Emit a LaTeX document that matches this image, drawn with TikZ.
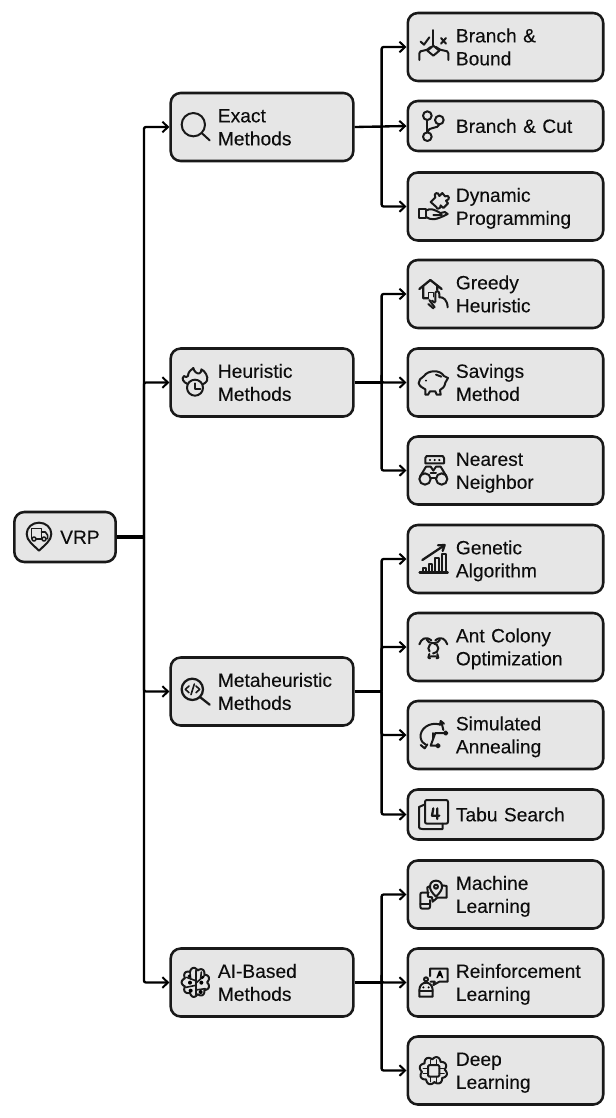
\documentclass[tikz,border=0pt]{standalone}
\usepackage{fontspec}
\setmainfont{Liberation Sans}[FakeBold=0.12]
\usetikzlibrary{arrows.meta}
\newcommand{\twolines}[3][36.1pt]{\hspace*{#1}\begin{tabular}{@{}l@{}}\rule{0pt}{15.4pt}#2\\#3\end{tabular}}
\newcommand{\oneline}[2][36.1pt]{\hspace*{#1}\begin{tabular}{@{}l@{}}\rule{0pt}{15.4pt}#2\end{tabular}}
\tikzset{
  boxbase/.style={draw=black!90,fill=boxgray,line width=1.9pt,rounded corners=7.5pt,inner xsep=0pt,inner ysep=0pt,
    font=\fontsize{14.4}{17.25}\selectfont,text=black!95},
  rightbox/.style={boxbase,text width=146.6pt,minimum height=51pt},
  rightshort/.style={rightbox,minimum height=37.5pt},
  midbox/.style={boxbase,text width=137pt,minimum height=51pt},
  rootbox/.style={boxbase,text width=76pt,minimum height=37.5pt},
  stem/.style={draw=black,line width=1.75pt},
  conn/.style={stem,-{Straight Barb[length=4.2pt,width=8pt,line width=1.5pt]},rounded corners=1.5pt},
  zc/.style 2 args={shift={(#1,#2)},x=.25pt,y=-.25pt,line width=1.5pt,line cap=round,line join=round,draw=black!90},
  thin line/.style={line width=1.2pt}
}
\definecolor{boxgray}{HTML}{E6E6E6}
\begin{document}
\begin{tikzpicture}[x=.75pt,y=-.75pt]
\useasboundingbox (0,0) rectangle (616,1118);
% ---- boxes
\node[rootbox] (vrp) at (65,537) {\oneline[34.4pt]{VRP}};
\node[midbox] (exact) at (262,127) {\twolines[35.4pt]{Exact}{Methods}};
\node[midbox] (heur) at (262,382.5) {\twolines[35.4pt]{Heuristic}{Methods}};
\node[midbox] (meta) at (262,691.5) {\twolines[35.4pt]{Metaheuristic}{Methods}};
\node[midbox] (ai) at (262,982.5) {\twolines[35.4pt]{AI-Based}{Methods}};
\node[rightbox] (bb) at (505.5,47) {\twolines{Branch \&}{Bound}};
\node[rightshort] (bc) at (505.5,126) {\oneline{Branch \& Cut}};
\node[rightbox] (dp) at (505.5,206.5) {\twolines{Dynamic}{Programming}};
\node[rightbox] (gh) at (505.5,294) {\twolines{Greedy}{Heuristic}};
\node[rightbox] (sm) at (505.5,382.5) {\twolines{Savings}{Method}};
\node[rightbox] (nn) at (505.5,470.5) {\twolines{Nearest}{Neighbor}};
\node[rightbox] (ga) at (505.5,559) {\twolines{Genetic}{Algorithm}};
\node[rightbox] (ac) at (505.5,647) {\twolines{Ant Colony}{Optimization}};
\node[rightbox] (sa) at (505.5,735) {\twolines{Simulated}{Annealing}};
\node[rightshort] (ts) at (505.5,814.5) {\oneline{Tabu Search}};
\node[rightbox] (ml) at (505.5,894.5) {\twolines{Machine}{Learning}};
\node[rightbox] (rl) at (505.5,982.5) {\twolines{Reinforcement}{Learning}};
\node[rightbox] (dl) at (505.5,1070.5) {\twolines{Deep}{Learning}};
% ---- connectors
\coordinate (j0) at ([xshift=20.25pt]vrp.east);
\coordinate (j1) at ([xshift=20.25pt]exact.east);
\coordinate (j2) at ([xshift=20.25pt]heur.east);
\coordinate (j3) at ([xshift=20.25pt]meta.east);
\coordinate (j4) at ([xshift=20.25pt]ai.east);
\draw[stem,line width=2.3pt] (vrp.east) -- (j0);
\draw[stem,line width=1.9pt] (exact.east) -- (j1);
\draw[stem] (heur.east) -- (j2);
\draw[stem] (meta.east) -- (j3);
\draw[stem] (ai.east) -- (j4);
\foreach \c in {exact,heur,meta,ai} \draw[conn] (j0) |- (\c.west);
\foreach \c in {bb,dp} \draw[conn] (j1) |- (\c.west);
\draw[conn] (exact.east) -- (bc.west);
\foreach \c in {gh,sm,nn} \draw[conn] (j2) |- (\c.west);
\foreach \c in {ga,ac,sa,ts} \draw[conn] (j3) |- (\c.west);
\foreach \c in {ml,rl,dl} \draw[conn] (j4) |- (\c.west);
% ---- VRP icon
\begin{scope}[zc={0}{500}]
  \draw (117,152) .. controls (100,135) and (80,122) .. (80,102) .. controls (80,82) and (97,68) .. (117,68) .. controls (137,68) and (154,82) .. (154,102) .. controls (154,122) and (134,135) .. (117,152) -- cycle;
  \draw[thin line] (94,116) -- (94,86) -- (124,86) -- (124,116) -- (110,116);
  \draw[thin line] (124,96) -- (136,96) -- (143,106) -- (143,116) -- (140,116);
  \draw[thin line] (102,117) circle[radius=6] (132,117) circle[radius=6];
  \draw[thin line] (108,117) -- (126,117);
\end{scope}
% ---- Exact: magnifier
\begin{scope}[zc={160}{80}]
  \draw (100,134) circle[radius=35];
  \draw (125,159) -- (149,181);
\end{scope}
% ---- Heuristic: flame and clock
\begin{scope}[zc={160}{340}]
  \draw (105,143) circle[radius=24];
  \draw (105,130) -- (105,146) -- (121,146);
  \draw (83,132) .. controls (72,128) and (62,116) .. (72,108) .. controls (76,112) and (80,112) .. (84,108) .. controls (84,96) and (92,90) .. (100,84) .. controls (102,94) and (110,102) .. (118,100) .. controls (124,98) and (124,92) .. (124,88) .. controls (134,92) and (146,110) .. (141,122) .. controls (139,127) and (134,130) .. (128,133);
\end{scope}
% ---- Meta: magnifier with code
\begin{scope}[zc={160}{650}]
  \draw[line width=1.7pt] (97,118) circle[radius=32];
  \draw[line width=1.7pt] (121,142) -- (149,164);
  \draw[thin line] (87,108) -- (76,118) -- (87,128) (108,108) -- (119,118) -- (108,128) (103,102) -- (93,134);
\end{scope}
% ---- AI: brain
\begin{scope}[zc={160}{940}]
  \draw plot[domain=0:360,samples=145] ({107+(34+8*abs(sin(4.5*\x)))*cos(\x)},{127+(36+8*abs(sin(4.5*\x)))*sin(\x)}) -- cycle;
  \draw (107,92) -- (107,164);
  \draw[thin line] (80,112) -- (107,122) (134,106) -- (107,130) (78,142) -- (107,136) (136,146) -- (107,150) (90,96) -- (92,118) (124,96) -- (122,114);
  \fill (90,128) circle[radius=6] (124,128) circle[radius=6] (92,152) circle[radius=6] (122,156) circle[radius=6] (88,108) circle[radius=5] (128,112) circle[radius=5];
\end{scope}
% ---- Branch & Bound
\begin{scope}[zc={400}{0}]
  \draw (100,90) -- (100,134);
  \draw (62,125) -- (72,134) -- (88,112);
  \draw (123,114) -- (138,131) (138,114) -- (123,131);
  \draw (100,137) -- (118,152) -- (100,167) -- (82,152) -- cycle;
  \draw (58,180) -- (58,160) .. controls (58,154) and (64,152) .. (70,152) .. controls (78,152) and (84,148) .. (92,141);
  \draw (145,180) -- (145,160) .. controls (145,154) and (139,152) .. (133,152) .. controls (125,152) and (118,148) .. (108,141);
\end{scope}
% ---- Branch & Cut
\begin{scope}[zc={400}{0}]
  \draw (82,347) circle[radius=13] (118,360) circle[radius=13] (82,410) circle[radius=13];
  \draw (82,360) -- (82,397);
  \draw (118,373) .. controls (116,388) and (84,378) .. (82,397);
\end{scope}
% ---- Dynamic Programming
\begin{scope}[zc={400}{0}]
  \draw (58,628) -- (78,628) -- (78,655) -- (58,655) -- cycle;
  \draw (78,632) .. controls (90,624) and (100,628) .. (112,634) .. controls (120,638) and (125,640) .. (125,645) -- (100,645);
  \draw (78,651) .. controls (95,662) and (108,660) .. (143,642) .. controls (140,634) and (130,636) .. (125,638);
  \draw (92,606) -- (106,592) .. controls (98,580) and (116,572) .. (118,588) -- (127,579) -- (135,589) .. controls (148,582) and (152,600) .. (138,602) -- (144,610) -- (130,624) -- (122,616) .. controls (124,628) and (106,628) .. (110,622) -- cycle;
\end{scope}
% ---- Greedy Heuristic
\begin{scope}[zc={400}{250}]
  \draw[line width=1.7pt] (58,117) -- (91,90) -- (125,117) (70,108) -- (70,145) -- (84,145) (112,106) -- (112,120);
  \draw[thin line] (86,145) -- (86,127) -- (100,127) -- (100,140);
  \draw (85,162) -- (100,175) (96,152) -- (104,158);
  \draw (106,155) -- (106,128) .. controls (110,120) and (118,124) .. (118,132) -- (118,142) .. controls (130,140) and (142,150) .. (143,172);
  \draw (88,150) -- (104,172);
\end{scope}
% ---- Savings Method
\begin{scope}[zc={400}{250}]
  \draw (72,378) .. controls (84,360) and (120,358) .. (132,378) -- (144,384) -- (136,398) .. controls (134,412) and (126,416) .. (120,420) -- (122,434) -- (110,434) -- (106,424) -- (90,424) -- (84,434) -- (76,434) -- (76,418) .. controls (68,414) and (58,408) .. (56,400) -- (60,388) -- (72,378) -- cycle;
  \draw (108,374) -- (124,380);
  \fill (78,392) circle[radius=3];
\end{scope}
% ---- Nearest Neighbor
\begin{scope}[zc={400}{250}]
  \draw (76,640) -- (76,624) -- (80,618) -- (128,618) -- (132,624) -- (132,640) -- cycle;
  \fill (90,630) circle[radius=3.5] (104,630) circle[radius=3.5] (118,630) circle[radius=3.5];
  \draw (75,687) circle[radius=17] (125,687) circle[radius=17];
  \draw (92,683) -- (108,683);
  \draw (60,680) -- (78,650) -- (92,650) -- (100,662) -- (108,650) -- (122,650) -- (140,680);
  \draw (92,670) -- (108,670);
\end{scope}
% ---- Genetic Algorithm
\begin{scope}[zc={400}{515}]
  \draw[line width=1.9pt] (59,172) -- (143,172);
  \draw (68,172) -- (68,160) -- (78,160) -- (78,172);
  \draw (86,172) -- (86,147) -- (97,147) -- (97,172);
  \draw (105,172) -- (105,128) -- (116,128) -- (116,172);
  \draw (125,172) -- (125,116) -- (138,116) -- (138,172);
  \draw[line width=1.7pt] (67,135) -- (133,91);
  \draw[line width=1.7pt] (114,91) -- (134,90) -- (128,108);
\end{scope}
% ---- Ant Colony Optimization
\begin{scope}[zc={400}{515}]
  \draw (58,388) .. controls (64,372) and (76,362) .. (94,376);
  \draw (142,388) .. controls (136,372) and (124,362) .. (106,376);
  \draw (80,374) .. controls (84,388) and (116,388) .. (120,374);
  \draw[dash pattern=on 6pt off 3pt] (100,400) circle[radius=15];
  \draw (88,417) -- (85,428) -- (90,430) (112,417) -- (115,428) -- (110,430) (92,424) -- (108,424);
\end{scope}
% ---- Simulated Annealing
\begin{scope}[zc={400}{515}]
  \draw (118,628) .. controls (88,620) and (58,642) .. (62,668) .. controls (64,680) and (70,685) .. (76,688);
  \draw (136,654) -- (106,654) -- (92,692) -- (110,692);
  \draw (137,654) circle[radius=5] (114,692) circle[radius=5];
  \draw (62,690) -- (74,700) -- (82,688);
  \draw (120,630) -- (122,618) -- (132,626) (124,620) -- (130,645);
  \draw (100,654) -- (100,672);
\end{scope}
% ---- Tabu Search
\begin{scope}[zc={400}{515}]
  \draw (75,861) -- (75,920) .. controls (75,924) and (77,926) .. (81,926) -- (138,926) .. controls (142,926) and (144,924) .. (144,920) -- (144,861) .. controls (144,857) and (142,855) .. (138,855) -- (81,855) .. controls (77,855) and (75,857) .. (75,861) -- cycle;
  \draw (75,868) -- (57,876) -- (57,936) (67,942) -- (128,942) -- (128,926);
  \draw (57,936) .. controls (57,940) and (60,942) .. (67,942);
  \draw[line width=1.7pt] (100,880) -- (96,902) -- (118,902) (112,880) -- (112,912);
\end{scope}
% ---- Machine Learning
\begin{scope}[zc={400}{850}]
  \draw (86,128) -- (66,128) .. controls (62,128) and (61,130) .. (61,134) -- (61,170) .. controls (61,174) and (63,176) .. (67,176) -- (84,176) .. controls (88,176) and (90,174) .. (90,170) -- (90,150);
  \draw (61,162) -- (90,162);
  \draw (90,108) -- (82,112) -- (84,140) -- (96,142) -- (98,155) -- (112,143) -- (140,143) -- (140,108) -- (126,106);
  \draw (108,140) .. controls (94,126) and (90,118) .. (90,110) .. controls (90,98) and (98,92) .. (108,92) .. controls (118,92) and (126,98) .. (126,110) .. controls (126,118) and (122,126) .. (108,140) -- cycle;
  \draw (108,110) circle[radius=6];
\end{scope}
% ---- Reinforcement Learning
\begin{scope}[zc={400}{850}]
  \draw (90,378) -- (90,356) -- (143,356) -- (143,395) -- (118,395) -- (100,405) -- (104,395) -- (92,395);
  \fill (117,362) -- (122,362) -- (130,384) -- (125,384) -- (123,378) -- (116,378) -- (114,384) -- (109,384) -- cycle;
  \draw (78,388) circle[radius=6];
  \draw (58,440) -- (58,420) .. controls (58,406) and (68,398) .. (78,398) .. controls (88,398) and (98,406) .. (98,420) -- (98,440) -- cycle;
  \draw (58,422) -- (98,422);
  \fill (70,412) circle[radius=3.5] (86,412) circle[radius=3.5];
\end{scope}
% ---- Deep Learning
\begin{scope}[zc={400}{850}]
  \draw plot[domain=0:360,samples=145] ({100+(34+8*abs(sin(4*\x+22)))*cos(\x)},{662+(34+8*abs(sin(4*\x+22)))*sin(\x)}) -- cycle;
  \draw (88,645) -- (114,645) -- (118,649) -- (118,676) -- (114,680) -- (88,680) -- (84,676) -- (84,649) -- cycle;
  \draw[thin line] (92,645) -- (92,630) (110,645) -- (110,630) (92,680) -- (92,695) (110,680) -- (110,695) (84,655) -- (70,655) (84,670) -- (70,670) (118,655) -- (132,655) (118,670) -- (132,670);
\end{scope}
\end{tikzpicture}
\end{document}
